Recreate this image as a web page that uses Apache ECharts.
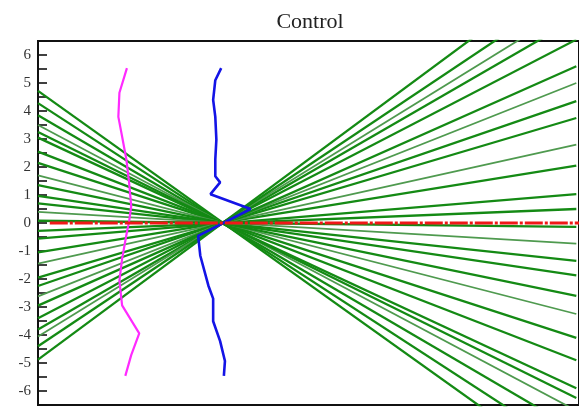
<!DOCTYPE html>
<html>
<head>
<meta charset="utf-8">
<script src="https://cdn.jsdelivr.net/npm/echarts@6/dist/echarts.min.js"></script>
<style>html,body{margin:0;padding:0;background:#fff;}#c{width:579px;height:408px;}</style>
</head>
<body>
<div id="c"></div>
<script>
// Green fan lines: value at left edge (x=0) and at right edge (x=100)
var greenLeft  = [4.72, 4.28, 3.85, 3.5, 3.25, 3.05, 2.55, 2.15, 1.7, 1.35, 0.97, 0.7, 0.4, 0.08,
                  -0.28, -0.56, -1.05, -1.45, -1.95, -2.25, -2.62, -2.95, -3.4, -3.8, -4.05, -4.4, -4.88];
var greenRight = [-9.0, -8.2, -7.4, -6.7, -6.25, -5.9, -4.9, -4.1, -3.25, -2.6, -1.87, -1.35, -0.74, -0.14,
                  0.5, 1.03, 2.05, 2.8, 3.75, 4.35, 5.0, 5.6, 6.55, 7.3, 7.8, 8.45, 9.35];
var greenLight = [0,0,0,1,0,0,0,0,1,0,0,0,1,0, 0,0,0,1,0,0,1,0,0,0,1,0,0];
// Magenta curve (x, y)
var magX = [16.6, 15.2, 15.0, 15.7, 16.5, 17.0, 17.4, 17.0, 16.6, 15.7, 15.2, 15.7, 18.9, 17.4, 16.3];
var magY = [5.53, 4.65, 3.79, 3.09, 2.27, 1.45, 0.6, 0.04, -0.32, -1.28, -2.06, -2.94, -3.94, -4.72, -5.46];
// Blue curve (x, y)
var bluX = [34.2, 33.1, 32.7, 33.1, 33.3, 33.1, 33.1, 34.0, 32.2, 39.7, 29.9, 30.3, 31.8, 32.7, 32.7, 34.0, 34.9, 34.7];
var bluY = [5.53, 5.1, 4.4, 3.79, 2.98, 2.27, 1.67, 1.45, 1.03, 0.5, -0.46, -1.17, -2.23, -2.7, -3.51, -4.22, -4.93, -5.46];
// Red reference line
var redX = [2.2, 101];
var redY = [0, 0];
var yTicks = [-6, -5, -4, -3, -2, -1, 0, 1, 2, 3, 4, 5, 6];

var chart = echarts.init(document.getElementById('c'), null, {renderer: 'canvas'});
var series = [];
for (var i = 0; i < greenLeft.length; i++) {
  series.push({
    type: 'line', showSymbol: false, symbol: 'none', silent: true, clip: true,
    data: [[0, greenLeft[i]], [100.5, greenRight[i]]],
    lineStyle: {color: greenLight[i] ? '#4f9a4f' : '#148a14', width: greenLight[i] ? 1.8 : 2.3}
  });
}
series.push({
  type: 'line', symbol: 'none', silent: true, clip: true, z: 5,
  data: redX.map(function (x, k) { return [x, redY[k]]; }),
  lineStyle: {color: '#f01818', width: 3, type: [18, 2, 3, 2]}
});
series.push({
  type: 'line', symbol: 'none', silent: true, z: 4,
  data: magX.map(function (x, k) { return [x, magY[k]]; }),
  lineStyle: {color: '#ff2aff', width: 2.2}
});
series.push({
  type: 'line', symbol: 'none', silent: true, z: 4,
  data: bluX.map(function (x, k) { return [x, bluY[k]]; }),
  lineStyle: {color: '#1414e6', width: 2.6}
});

chart.setOption({
  animation: false,
  backgroundColor: '#fff',
  title: {
    text: 'Control', left: 305, top: 6, textAlign: 'center',
    textStyle: {fontFamily: 'Liberation Serif', fontSize: 22, fontWeight: 'normal', color: '#222'}
  },
  grid: {left: 38, top: 41, width: 546, height: 364, show: true, borderColor: '#111', borderWidth: 2, backgroundColor: 'transparent'},
  xAxis: {
    type: 'value', min: 0, max: 101,
    axisLine: {show: false}, axisTick: {show: false}, axisLabel: {show: false}, splitLine: {show: false}
  },
  yAxis: {
    type: 'value', min: -6.5, max: 6.5, interval: 0.5,
    axisLine: {show: true, onZero: false, lineStyle: {color: '#111', width: 2}},
    axisTick: {show: true, inside: true, length: 9, lineStyle: {color: '#111', width: 1.6}},
    axisLabel: {
      margin: 7, fontFamily: 'Liberation Serif', fontSize: 15, color: '#333',
      formatter: function (v) { return yTicks.indexOf(v) >= 0 ? String(v) : ''; }
    },
    splitLine: {show: false}
  },
  series: series
});
</script>
</body>
</html>
